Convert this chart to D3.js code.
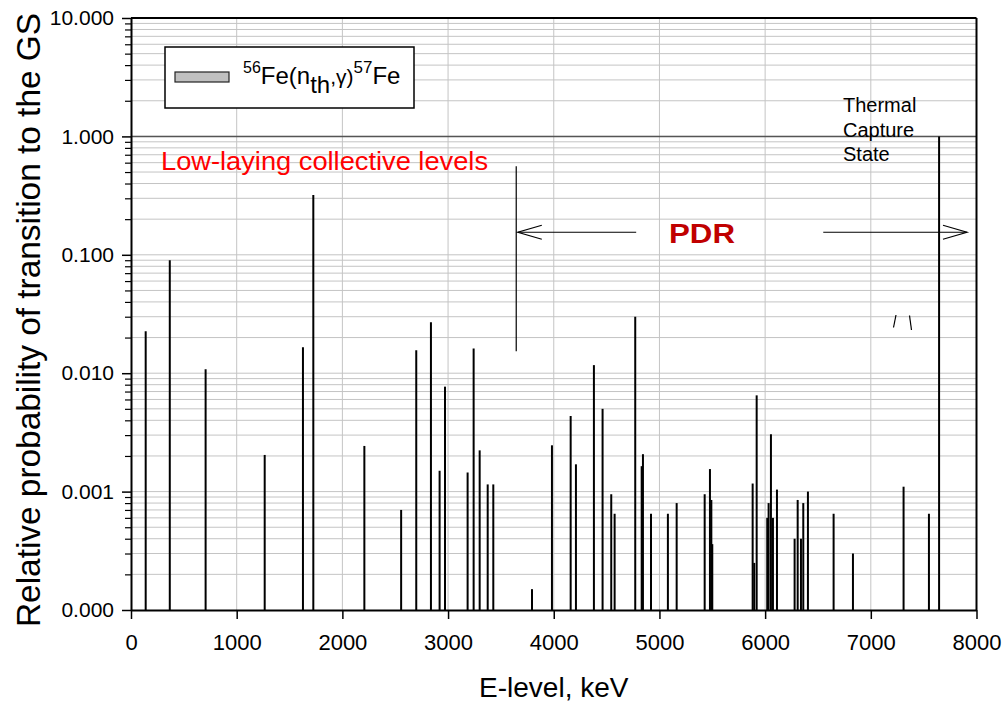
<!DOCTYPE html>
<html>
<head>
<meta charset="utf-8">
<script src="https://cdn.jsdelivr.net/npm/d3@7"></script>
<style>
  body { margin: 0; background: #fff; }
  svg { font-family: Arial, "Liberation Sans", sans-serif; }
</style>
</head>
<body>
<svg id="chart" width="1004" height="702"></svg>
<script>
// level energies (keV) and relative probability of the transition to the GS
const energies = [139, 367, 706, 1265, 1627, 1725, 2208, 2556, 2699, 2838,
  2920, 2971, 3185, 3242, 3299, 3375, 3428, 3794, 3983, 4160,
  4210, 4380, 4462, 4544, 4576, 4771, 4832, 4844, 4920, 5080,
  5163, 5428, 5478, 5491, 5500, 5882, 5897, 5920, 6020, 6033,
  6055, 6074, 6112, 6279, 6308, 6339, 6361, 6405, 6648, 6831,
  7310, 7550, 7646]
const probabilities = [0.0226, 0.090, 0.0108, 0.00204, 0.0166, 0.32, 0.00243, 0.00070, 0.0156, 0.027,
  0.0015, 0.0077, 0.00145, 0.0162, 0.00223, 0.00115, 0.00115, 0.00015, 0.00246, 0.00435,
  0.0017, 0.0117, 0.0050, 0.00095, 0.00065, 0.030, 0.00164, 0.00207, 0.00065, 0.00065,
  0.00080, 0.00095, 0.00155, 0.00085, 0.00036, 0.00117, 0.00025, 0.0065, 0.0006, 0.0008,
  0.00305, 0.0006, 0.00104, 0.0004, 0.00085, 0.0004, 0.0008, 0.0010, 0.00065, 0.0003,
  0.0011, 0.00065, 1.0]

const xTicks = [0, 1000, 2000, 3000, 4000, 5000, 6000, 7000, 8000]
const yTicks = [0.0001, 0.001, 0.01, 0.1, 1, 10]
const yTickLabels = ['0.000', '0.001', '0.010', '0.100', '1.000', '10.000']

const width = 1004
const height = 702
const margin = { top: 18, right: 27.5, bottom: 92, left: 131 }

const svg = d3.select('#chart')

const x = d3.scaleLinear().domain([0, 8000]).range([margin.left, width - margin.right])
const y = d3.scaleLog().domain([0.0001, 10]).range([height - margin.bottom, margin.top])

const minorY = []
yTicks.slice(0, -1).forEach(d => {
  for (let k = 2; k <= 9; k++) minorY.push(d * k)
})

// grid
const grid = svg.append('g').attr('class', 'grid')
grid.selectAll('.hgrid')
  .data(minorY.concat(yTicks.slice(1, -1)))
  .join('line')
  .attr('x1', x(0)).attr('x2', x(8000))
  .attr('y1', d => y(d)).attr('y2', d => y(d))
  .attr('stroke', '#c4c4c4')
  .attr('stroke-width', 1)
grid.selectAll('.vgrid')
  .data(xTicks.slice(1, -1))
  .join('line')
  .attr('x1', d => x(d)).attr('x2', d => x(d))
  .attr('y1', y(10)).attr('y2', y(0.0001))
  .attr('stroke', '#c4c4c4')
  .attr('stroke-width', 1)

// reference line at 1
svg.append('line')
  .attr('x1', x(0)).attr('x2', x(8000))
  .attr('y1', y(1)).attr('y2', y(1))
  .attr('stroke', '#555')
  .attr('stroke-width', 1.5)

// bars (stick spectrum)
svg.append('g').attr('class', 'bars')
  .selectAll('line')
  .data(energies)
  .join('line')
  .attr('x1', d => x(d)).attr('x2', d => x(d))
  .attr('y1', y(0.0001))
  .attr('y2', (d, i) => y(probabilities[i]))
  .attr('stroke', '#000')
  .attr('stroke-width', 2)

// axes
const xAxis = svg.append('g')
  .attr('transform', `translate(0,${y(0.0001)})`)
  .call(d3.axisBottom(x).tickValues(xTicks).tickFormat(d3.format('d')).tickSize(9).tickSizeOuter(0))
xAxis.select('.domain').attr('stroke-width', 2)
xAxis.selectAll('.tick line').attr('stroke-width', 1.5)
xAxis.selectAll('.tick text')
  .attr('font-size', 22)
  .attr('font-family', 'Arial, "Liberation Sans", sans-serif')
  .attr('fill', '#000')
  .attr('y', 24)

const yAxis = svg.append('g')
  .attr('transform', `translate(${x(0)},0)`)
  .call(d3.axisLeft(y).tickValues(yTicks).tickFormat((d, i) => yTickLabels[i]).tickSize(9).tickSizeOuter(0))
yAxis.select('.domain').attr('stroke-width', 2)
yAxis.selectAll('.tick line').attr('stroke-width', 1.5)
yAxis.selectAll('.tick text')
  .attr('font-size', 21)
  .attr('font-family', 'Arial, "Liberation Sans", sans-serif')
  .attr('fill', '#000')
  .attr('x', -17)

svg.append('g')
  .attr('transform', `translate(${x(0)},0)`)
  .call(d3.axisLeft(y).tickValues(minorY).tickFormat('').tickSize(6).tickSizeOuter(0))
  .call(g => g.select('.domain').remove())
  .selectAll('.tick line').attr('stroke-width', 1.2)

// frame top / right
svg.append('line')
  .attr('x1', x(0)).attr('x2', x(8000))
  .attr('y1', y(10)).attr('y2', y(10))
  .attr('stroke', '#000').attr('stroke-width', 2)
svg.append('line')
  .attr('x1', x(8000)).attr('x2', x(8000))
  .attr('y1', y(10)).attr('y2', y(0.0001))
  .attr('stroke', '#000').attr('stroke-width', 2)

// axis titles
svg.append('text')
  .attr('x', (x(0) + x(8000)) / 2)
  .attr('y', 697)
  .attr('text-anchor', 'middle')
  .attr('font-size', 28)
  .text('E-level, keV')

svg.append('text')
  .attr('transform', `translate(40,320) rotate(-90)`)
  .attr('text-anchor', 'middle')
  .attr('font-size', 33)
  .attr('textLength', 614)
  .attr('lengthAdjust', 'spacingAndGlyphs')
  .text('Relative probability of transition to the GS')

// annotations
const ann = svg.append('g').attr('class', 'annotations')
  .attr('stroke', '#000').attr('stroke-width', 1.2).attr('fill', 'none')

ann.append('line') // lower edge marker of the PDR region
  .attr('x1', x(3645)).attr('x2', x(3645))
  .attr('y1', y(0.56)).attr('y2', y(0.0153))

const arrowY = y(0.155)
ann.append('line').attr('x1', x(4780)).attr('x2', x(3660)).attr('y1', arrowY).attr('y2', arrowY)
ann.append('path')
  .attr('d', `M${x(3660) + 24},${arrowY - 7}L${x(3660)},${arrowY}L${x(3660) + 24},${arrowY + 7}`)
ann.append('line').attr('x1', x(6550)).attr('x2', x(7910)).attr('y1', arrowY).attr('y2', arrowY)
ann.append('path')
  .attr('d', `M${x(7910) - 24},${arrowY - 7}L${x(7910)},${arrowY}L${x(7910) - 24},${arrowY + 7}`)

ann.append('line').attr('x1', 896).attr('y1', 315).attr('x2', 893.5).attr('y2', 327.5)
ann.append('line').attr('x1', 909.5).attr('y1', 315.5).attr('x2', 911.5).attr('y2', 330)

svg.append('text')
  .attr('x', 161).attr('y', 170)
  .attr('font-size', 26)
  .attr('textLength', 327)
  .attr('lengthAdjust', 'spacingAndGlyphs')
  .attr('fill', '#ff0000')
  .text('Low-laying collective levels')

svg.append('text')
  .attr('x', 702).attr('y', 243)
  .attr('text-anchor', 'middle')
  .attr('font-size', 27)
  .attr('textLength', 66)
  .attr('lengthAdjust', 'spacingAndGlyphs')
  .attr('font-weight', 'bold')
  .attr('fill', '#c00000')
  .text('PDR')

svg.append('text')
  .attr('font-size', 20)
  .selectAll('tspan')
  .data(['Thermal', 'Capture', 'State'])
  .join('tspan')
  .attr('x', 843)
  .attr('y', (d, i) => 112 + i * 24.7)
  .text(d => d)

// legend
const legend = svg.append('g').attr('class', 'legend')
legend.append('rect')
  .attr('x', 165).attr('y', 47).attr('width', 249).attr('height', 61)
  .attr('fill', '#fff').attr('stroke', '#000').attr('stroke-width', 1.5)
legend.append('rect')
  .attr('x', 175).attr('y', 72).attr('width', 54).attr('height', 10)
  .attr('fill', '#c0c0c0').attr('stroke', '#222').attr('stroke-width', 1.2)
const lt = legend.append('text').attr('x', 243).attr('y', 84).attr('font-size', 24)
lt.append('tspan').attr('font-size', 16).attr('dy', -11).text('56')
lt.append('tspan').attr('dy', 11).text('Fe(n')
lt.append('tspan').attr('dy', 9).text('th')
lt.append('tspan').attr('dy', -9).attr('font-size', 21).text(',γ)')
lt.append('tspan').attr('font-size', 17).attr('dy', -11).text('57')
lt.append('tspan').attr('dy', 11).text('Fe')
</script>
</body>
</html>
